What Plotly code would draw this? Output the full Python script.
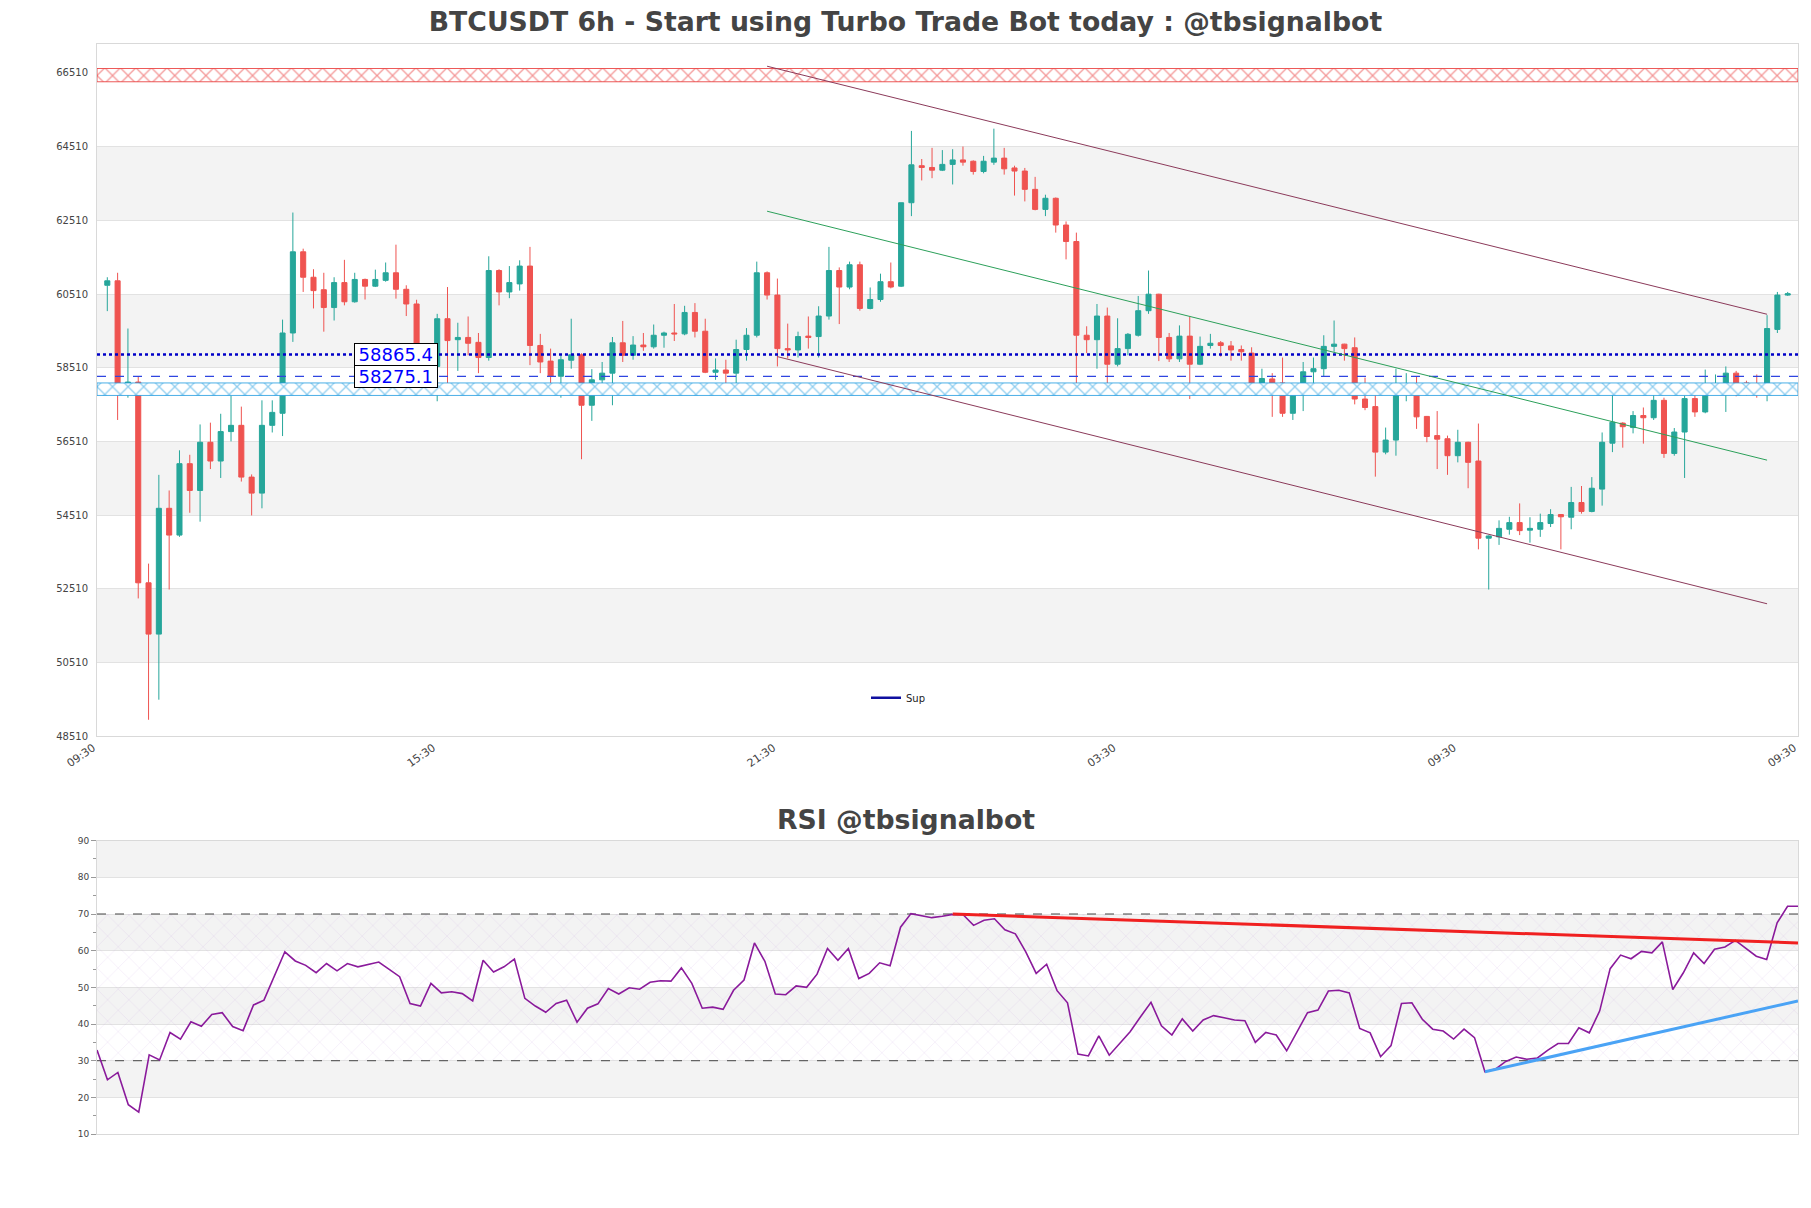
import plotly.graph_objects as go

# ---------------- data ----------------
opens = [60747, 60868, 57817, 58120, 52672, 51280, 54694, 53967, 55905, 55178,
         56486, 55977, 56776, 56946, 55541, 55106, 56946, 57273, 59452, 61655,
         60965, 60626, 60142, 60820, 60299, 60905, 60723, 60880, 61086, 60638,
         60239, 58971, 58544, 59839, 59270, 59331, 59198, 58786, 61147, 60566,
         60784, 61268, 59113, 58689, 58277, 58713, 58859, 57491, 58181, 58362,
         59186, 58847, 59125, 59077, 59391, 59452, 59428, 60009, 59500, 58386,
         58447, 58362, 59004, 59391, 61086, 60481, 59028, 58992, 59367, 59355,
         59912, 61147, 60699, 61304, 60118, 60360, 60844, 60723, 62987, 63992,
         63944, 63871, 64028, 64149, 64113, 63835, 64089, 64198, 63931, 63847,
         63350, 62806, 63108, 62382, 61934, 59391, 59270, 59912, 58604, 59028,
         59391, 60057, 60505, 59331, 58750, 59367, 58604, 59113, 59186, 59101,
         59004, 58907, 57963, 58205, 58096, 57273, 57781, 58399, 58483, 59089,
         59149, 59052, 57660, 57454, 56219, 56546, 57854, 57938, 57188, 56667,
         56582, 56122, 56486, 55977, 53883, 53919, 54125, 54306, 54101, 54125,
         54282, 54524, 54452, 54851, 54609, 55215, 56461, 57006, 56885, 57212,
         57152, 57624, 56183, 56764, 57672, 57309, 57938, 57999, 58362, 58096,
         57914, 57817, 59549, 60481]
highs = [60965, 61086, 59573, 58277, 53193, 55602, 55178, 56268, 56147, 56970,
         57018, 57260, 57745, 57454, 55614, 57624, 57624, 59815, 62721, 61740,
         61183, 61086, 60965, 61437, 61086, 60929, 61171, 61365, 61849, 60747,
         60354, 59107, 59972, 60699, 59730, 59900, 59452, 61534, 61183, 61268,
         61425, 61789, 59428, 59028, 58847, 59839, 58900, 58471, 58665, 59343,
         59779, 59367, 59452, 59682, 59488, 60239, 60190, 60263, 59839, 58762,
         58726, 59270, 59585, 61389, 61123, 60929, 59706, 59488, 59900, 60178,
         61789, 61232, 61389, 61389, 60687, 61062, 61365, 62987, 64936, 64174,
         64476, 64416, 64440, 64513, 64137, 64258, 64997, 64476, 63992, 63931,
         63689, 63205, 63130, 62479, 62176, 59634, 60239, 60142, 59851, 59452,
         60457, 61147, 60517, 59452, 59658, 59900, 59355, 59428, 59234, 59234,
         59113, 59064, 58483, 58362, 58786, 58035, 58665, 58786, 59391, 59791,
         59160, 59331, 58241, 57878, 56885, 58483, 58362, 58277, 57200, 57333,
         56667, 56825, 56500, 56994, 53960, 54367, 54464, 54827, 54452, 54549,
         54670, 54536, 55275, 55299, 55541, 56752, 58060, 57031, 57333, 57430,
         58060, 57696, 56873, 57757, 57999, 58459, 58326, 58544, 58423, 58157,
         58326, 59936, 60566, 60566]
lows = [60045, 57091, 57696, 52248, 48955, 49500, 52490, 53919, 54573, 54331,
        55759, 55517, 56510, 55420, 54500, 54694, 56752, 56655, 59210, 60566,
        60118, 59488, 59791, 60202, 60275, 60360, 60699, 60844, 60384, 59912,
        58835, 58510, 57599, 57757, 58423, 58847, 58362, 58701, 60202, 60396,
        60602, 58580, 58362, 57999, 57696, 58483, 56026, 57067, 58060, 57491,
        58665, 58726, 58968, 59028, 59052, 59234, 59391, 59331, 58362, 58181,
        57757, 57963, 58701, 59331, 60360, 58544, 58762, 58786, 59028, 58786,
        59815, 59694, 60638, 60057, 60094, 60299, 60663, 60699, 62624, 63592,
        63653, 63847, 63483, 63992, 63750, 63786, 64016, 63750, 63181, 63023,
        62781, 62624, 62176, 61450, 58060, 58907, 58483, 57817, 58544, 58847,
        59355, 59972, 58689, 58665, 58665, 57660, 58580, 59028, 58810, 58701,
        58701, 57757, 57757, 57176, 57176, 57091, 57333, 58096, 58277, 58943,
        58701, 57515, 57357, 55553, 56159, 56122, 57599, 56849, 56486, 55759,
        55602, 55941, 55239, 53580, 52490, 53701, 53980, 53967, 53762, 53919,
        54185, 53580, 54125, 54549, 54585, 54767, 56219, 56340, 56728, 56449,
        57091, 56062, 56122, 55517, 57176, 57273, 57781, 57309, 57733, 57757,
        57696, 57599, 59452, 60457]
closes = [60868, 57817, 58120, 52672, 51280, 54694, 53967, 55905, 55178, 56486,
          55977, 56776, 56946, 55541, 55106, 56946, 57297, 59452, 61655, 60965,
          60602, 60142, 60820, 60299, 60905, 60723, 60905, 61086, 60638, 60239,
          58971, 58564, 59839, 59246, 59331, 59173, 58786, 61147, 60566, 60820,
          61268, 59113, 58665, 58277, 58726, 58859, 57491, 58181, 58362, 59186,
          58847, 59125, 59077, 59391, 59452, 59428, 60009, 59500, 58386, 58447,
          58362, 59004, 59391, 61086, 60481, 59028, 58992, 59355, 59331, 59912,
          61147, 60699, 61304, 60118, 60360, 60844, 60699, 62987, 64016, 63944,
          63871, 64028, 64149, 64089, 63835, 64113, 64198, 63907, 63847, 63350,
          62806, 63108, 62382, 61934, 59391, 59270, 59912, 58604, 59028, 59416,
          60057, 60505, 59331, 58750, 59367, 58604, 59089, 59173, 59113, 58992,
          58943, 57963, 58217, 58096, 57273, 57781, 58399, 58483, 59089, 59149,
          59028, 57660, 57430, 56219, 56546, 57878, 57938, 57176, 56643, 56570,
          56122, 56486, 55941, 53883, 53943, 54149, 54306, 54088, 54149, 54306,
          54524, 54464, 54851, 54609, 55239, 56486, 57031, 56909, 57212, 57152,
          57624, 56183, 56764, 57672, 57309, 57938, 58035, 58362, 58096, 57914,
          57854, 59573, 60481, 60517]

rsi = [32.9, 24.8, 26.8, 18.0, 16.0, 31.6, 30.2, 37.7, 35.9, 40.6,
       39.4, 42.6, 43.1, 39.3, 38.2, 45.2, 46.5, 53.3, 59.7, 57.2,
       56.0, 54.0, 56.5, 54.5, 56.5, 55.6, 56.2, 56.9, 54.9, 52.9,
       45.6, 44.9, 51.1, 48.5, 48.8, 48.3, 46.3, 57.4, 54.2, 55.6,
       57.7, 47.0, 44.9, 43.2, 45.6, 46.5, 40.5, 44.3, 45.5, 49.7,
       48.2, 49.9, 49.5, 51.4, 51.8, 51.7, 55.3, 51.1, 44.3, 44.6,
       44.0, 49.2, 52.0, 62.1, 57.1, 48.2, 48.0, 50.4, 50.0, 53.6,
       60.6, 57.4, 60.6, 52.4, 53.8, 56.7, 55.9, 66.4, 70.1, 69.6,
       69.0, 69.4, 69.9, 69.8, 66.9, 68.3, 68.7, 65.7, 64.6, 59.7,
       53.8, 56.3, 49.1, 45.8, 31.8, 31.3, 36.8, 31.5, 34.7, 37.9,
       42.0, 45.9, 39.5, 37.0, 41.4, 38.1, 41.1, 42.3, 41.7, 41.1,
       40.9, 35.0, 37.7, 37.0, 32.7, 37.7, 43.1, 43.8, 49.0, 49.2,
       48.5, 38.8, 37.6, 31.1, 34.1, 45.6, 45.8, 41.3, 38.6, 38.1,
       35.9, 38.6, 36.3, 27.0, 27.7, 29.8, 31.0, 30.4, 30.7, 32.8,
       34.7, 34.7, 39.0, 37.6, 43.6, 55.1, 58.8, 57.8, 59.8, 59.4,
       62.4, 49.4, 53.9, 59.4, 56.5, 60.4, 61.0, 62.8, 60.6, 58.5,
       57.6, 67.6, 72.1, 72.1]

price_ticks = [48510, 50510, 52510, 54510, 56510, 58510, 60510, 62510, 64510, 66510]
price_tick_text = ["48510", "50510", "52510", "54510", "56510", "58510",
                   "60510", "62510", "64510", "66510"]
price_bands = [(50510, 52510), (54510, 56510), (58510, 60510), (62510, 64510)]
price_range = [48510, 67283]
x_tick_pos = [-1, 32, 65, 98, 131, 164]
x_tick_text = ["09:30", "15:30", "21:30", "03:30", "09:30", "09:30"]

rsi_ticks = [10, 20, 30, 40, 50, 60, 70, 80, 90]
rsi_bands = [(20, 30), (40, 50), (60, 70), (80, 90)]
rsi_levels = [30, 70]

sup_level = 58865.4
sup2_level = 58275.1
resistance_zone = (66270, 66630)
support_zone = (57757, 58096)

channel_upper_x = [64, 161]
channel_upper_y = [66692, 59960]
channel_lower_x = [65, 161]
channel_lower_y = [58810, 52103]
channel_mid_x = [64, 161]
channel_mid_y = [62757, 56001]

rsi_res_x = [82, 163]
rsi_res_y = [70.0, 62.1]
rsi_sup_x = [133, 163]
rsi_sup_y = [27.0, 46.3]

# ---------------- figure ----------------
n = len(closes)
idx = list(range(n))
xl, xr = -1, n
W, H = 1811, 1208
FONT = "DejaVu Sans"


def py(px):
    # pixel row (from top of the page) -> paper fraction
    return 1 - (px - 4.15) / 1198.3


fig = go.Figure()


def zone(lo, hi, color, size):
    fig.add_trace(go.Scatter(
        x=[xl, xr, xr, xl, xl], y=[lo, lo, hi, hi, lo],
        mode="lines", fill="toself", fillcolor="white",
        fillpattern=dict(shape="x", fgcolor=color, bgcolor="white",
                         size=size, solidity=0.22),
        line=dict(color=color, width=0.8),
        hoverinfo="skip", showlegend=False, xaxis="x", yaxis="y"))


zone(*resistance_zone, "#e8302f", 11)
zone(*support_zone, "#1e9be0", 11)

fig.add_trace(go.Scatter(
    x=[xl, xr], y=[sup2_level, sup2_level], mode="lines",
    line=dict(color="#2f45e0", width=1.3, dash="dash"),
    showlegend=False, hoverinfo="skip", xaxis="x", yaxis="y"))
fig.add_trace(go.Scatter(
    x=[xl, xr], y=[sup_level, sup_level], mode="lines", name="Sup",
    line=dict(color="#0000c8", width=2.5, dash="dot"),
    showlegend=False, hoverinfo="skip", xaxis="x", yaxis="y"))
# legend entry (solid swatch as in the original)
fig.add_trace(go.Scatter(
    x=[None], y=[None], mode="lines", name="Sup",
    line=dict(color="#1010a0", width=2.5),
    showlegend=True, hoverinfo="skip", xaxis="x", yaxis="y"))

for cx, cy, col in [(channel_upper_x, channel_upper_y, "#8b3a5a"),
                    (channel_lower_x, channel_lower_y, "#8b3a5a"),
                    (channel_mid_x, channel_mid_y, "#2ca05a")]:
    fig.add_trace(go.Scatter(x=cx, y=cy, mode="lines",
                             line=dict(color=col, width=1),
                             showlegend=False, hoverinfo="skip",
                             xaxis="x", yaxis="y"))

fig.add_trace(go.Candlestick(
    x=idx, open=opens, high=highs, low=lows, close=closes,
    increasing=dict(line=dict(color="#26a69a", width=1), fillcolor="#26a69a"),
    decreasing=dict(line=dict(color="#ef5350", width=1), fillcolor="#ef5350"),
    whiskerwidth=0, showlegend=False, xaxis="x", yaxis="y"))

# RSI panel
fig.add_trace(go.Scatter(
    x=[0, n - 1, n - 1, 0, 0], y=[30, 30, 70, 70, 30], mode="none",
    fill="toself", fillcolor="rgba(0,0,0,0)",
    fillpattern=dict(shape="x", fgcolor="rgba(170,120,210,0.55)",
                     bgcolor="rgba(0,0,0,0)", size=15, solidity=0.05),
    hoverinfo="skip", showlegend=False, xaxis="x2", yaxis="y2"))
for lv in rsi_levels:
    fig.add_trace(go.Scatter(x=[0, n - 1], y=[lv, lv], mode="lines",
                             line=dict(color="#444444", width=1, dash="dash"),
                             showlegend=False, hoverinfo="skip",
                             xaxis="x2", yaxis="y2"))
fig.add_trace(go.Scatter(x=idx, y=rsi, mode="lines",
                         line=dict(color="#8a1a9b", width=1.6),
                         showlegend=False, xaxis="x2", yaxis="y2"))
fig.add_trace(go.Scatter(x=rsi_res_x, y=rsi_res_y, mode="lines",
                         line=dict(color="#f02020", width=3),
                         showlegend=False, hoverinfo="skip",
                         xaxis="x2", yaxis="y2"))
fig.add_trace(go.Scatter(x=rsi_sup_x, y=rsi_sup_y, mode="lines",
                         line=dict(color="#4aa3f5", width=3),
                         showlegend=False, hoverinfo="skip",
                         xaxis="x2", yaxis="y2"))

shapes = []
for lo, hi in price_bands:
    shapes.append(dict(type="rect", xref="x domain", yref="y", x0=0, x1=1,
                       y0=lo, y1=hi, fillcolor="#f3f3f3", line_width=0,
                       layer="below"))
for lo, hi in rsi_bands:
    shapes.append(dict(type="rect", xref="x2 domain", yref="y2", x0=0, x1=1,
                       y0=lo, y1=hi, fillcolor="#f3f3f3", line_width=0,
                       layer="below"))

annotations = []
for lv in (sup_level, sup2_level):
    annotations.append(dict(x=28, y=lv, xref="x", yref="y",
                            text="\u2009" + f"{lv}" + "\u2009",
                            showarrow=False, xanchor="center", yanchor="middle",
                            font=dict(family=FONT, size=18, color="#0000ff"),
                            bgcolor="white", bordercolor="black",
                            borderwidth=1, borderpad=0))
annotations.append(dict(x=(W / 2 - 97) / (W - 97 - 13), y=py(819),
                        xref="paper", yref="paper",
                        text="<b>RSI @tbsignalbot</b>", showarrow=False,
                        xanchor="center", yanchor="middle",
                        font=dict(family=FONT, size=26.7, color="#444444")))

axis_common = dict(showline=True, linecolor="#d9d9d9", linewidth=1,
                   mirror=True, zeroline=False)

fig.update_layout(
    width=W, height=H,
    margin=dict(l=97, r=13, t=0, b=0),
    paper_bgcolor="white", plot_bgcolor="white",
    font=dict(family=FONT, color="#444444"),
    title=dict(text="<b>BTCUSDT 6h - Start using Turbo Trade Bot today : @tbsignalbot</b>",
               x=0.5, xref="container", y=1 - 22 / H, yref="container",
               yanchor="middle", xanchor="center",
               font=dict(family=FONT, size=26.7, color="#444444")),
    xaxis=dict(domain=[0, 1], anchor="y", range=[xl, xr],
               tickmode="array", tickvals=x_tick_pos, ticktext=x_tick_text,
               tickangle=-35, ticklabelshift=-4,
               tickfont=dict(size=11, color="#444444"),
               showgrid=False, rangeslider=dict(visible=False), **axis_common),
    yaxis=dict(domain=[py(735.5), py(43.6)], anchor="x",
               range=price_range, tickmode="array", tickvals=price_ticks,
               ticktext=price_tick_text,
               ticks="outside", ticklen=6, tickcolor="rgba(0,0,0,0)",
               tickfont=dict(size=10, color="#444444"),
               showgrid=True, gridcolor="#e2e2e2", **axis_common),
    xaxis2=dict(domain=[0, 1], anchor="y2", range=[0, n - 1],
                showticklabels=False, showgrid=False, **axis_common),
    yaxis2=dict(domain=[py(1133.5), py(840)], anchor="x2",
                range=[10, 90], tickmode="array", tickvals=rsi_ticks,
                ticks="outside", ticklen=5, tickcolor="#999999",
                minor=dict(ticks="outside", ticklen=3, dtick=5,
                           tickcolor="#999999", showgrid=False),
                tickfont=dict(size=9, color="#444444"),
                showgrid=True, gridcolor="#e2e2e2", **axis_common),
    showlegend=True,
    legend=dict(x=(866 - 97) / (W - 110), y=py(697), xanchor="left",
                yanchor="middle", bgcolor="rgba(0,0,0,0)",
                font=dict(family=FONT, size=10, color="#222222")),
    shapes=shapes, annotations=annotations,
    hovermode=False,
)

fig.write_html("out.html")
